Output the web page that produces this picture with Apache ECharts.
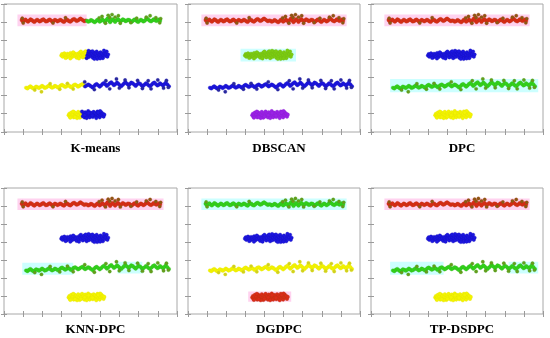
<!DOCTYPE html>
<html><head><meta charset="utf-8">
<script src="https://cdn.jsdelivr.net/npm/echarts@6/dist/echarts.min.js"></script>
<style>html,body{margin:0;padding:0;background:#fff}#c{width:550px;height:338px}</style>
</head><body><div id="c"></div>
<script>
// ---- data ----
const methods = ['K-means','DBSCAN','DPC','KNN-DPC','DGDPC','TP-DSDPC'];
const xTicks = [0,1,2,3,4,5,6,7,8,9];
const yTicks = [0,1,2,3,4,5,6,7];

const bandA = [[0.92,6.12],[0.98,6.05],[1.05,6.1],[1.12,6.15],[1.18,6.08],[1.25,6.03],[1.32,6.1],[1.38,6.16],[1.45,6.12],[1.52,6.05],[1.58,6.02],[1.65,6.08],[1.72,6.14],[1.78,6.1],[1.85,6.04],[1.92,6.07],[1.98,6.13],[2.05,6.16],[2.12,6.1],[2.18,6.04],[2.25,6.06],[2.32,6.12],[2.38,6.15],[2.45,6.09],[2.52,6.03],[2.58,6.07],[2.65,6.13],[2.72,6.1],[2.78,6.05],[2.85,6.08],[2.92,6.14],[2.98,6.11],[3.05,6.05],[3.12,6.02],[3.18,6.08],[3.25,6.14],[3.32,6.12],[3.38,6.06],[3.45,6.03],[3.52,6.09],[3.58,6.15],[3.65,6.18],[3.72,6.12],[3.78,6.07],[3.85,6.1],[3.92,6.16],[3.98,6.2],[4.05,6.15],[4.12,6.1],[4.18,6.06],[4.25,6.1],[4.32,6.08],[4.38,6.03],[4.45,6.06],[4.52,6.12],[4.58,6.1],[4.65,6.04],[4.72,6.0],[4.78,6.06],[4.85,6.13],[4.92,6.1],[4.98,6.03],[5.05,6.08],[5.12,6.15],[5.18,6.1],[5.25,6.02],[5.32,6.12],[5.38,6.2],[5.45,6.1],[5.52,6.0],[5.58,6.08],[5.65,6.16],[5.72,6.1],[5.78,6.02],[5.85,6.1],[5.92,6.18],[5.98,6.12],[6.05,6.05],[6.12,6.1],[6.18,6.16],[6.25,6.12],[6.32,6.06],[6.38,6.08],[6.45,6.14],[6.52,6.12],[6.58,6.06],[6.65,6.03],[6.72,6.09],[6.78,6.15],[6.85,6.12],[6.92,6.05],[6.98,6.02],[7.05,6.08],[7.12,6.14],[7.18,6.1],[7.25,6.04],[7.32,6.08],[7.38,6.15],[7.45,6.2],[7.52,6.14],[7.58,6.08],[7.65,6.05],[7.72,6.1],[7.78,6.16],[7.85,6.12],[7.92,6.07],[7.98,6.1],[8.05,6.15],[8.12,6.08]];
const bandAOut = [[0.95,6.22],[1.0,5.96],[2.55,5.96],[3.2,6.25],[4.95,6.24],[5.1,6.32],[5.28,5.95],[5.42,6.38],[5.5,6.26],[5.62,6.42],[5.78,6.28],[5.95,6.36],[6.05,5.95],[6.6,5.98],[6.9,6.22],[7.4,6.28],[7.6,6.36],[7.9,6.25],[8.1,5.97],[8.15,6.2]];

const bandB = [[2.98,4.18],[3.02,4.26],[3.05,4.12],[3.1,4.22],[3.14,4.3],[3.18,4.15],[3.22,4.22],[3.26,4.08],[3.3,4.28],[3.34,4.18],[3.38,4.24],[3.42,4.12],[3.46,4.32],[3.5,4.2],[3.54,4.1],[3.58,4.26],[3.62,4.18],[3.66,4.3],[3.7,4.14],[3.74,4.22],[3.78,4.06],[3.82,4.28],[3.86,4.2],[3.9,4.12],[3.94,4.34],[3.98,4.24],[4.02,4.16],[4.06,4.3],[4.1,4.08],[4.14,4.22],[4.18,4.36],[4.22,4.14],[4.26,4.26],[4.3,4.04],[4.34,4.2],[4.38,4.32],[4.42,4.1],[4.46,4.24],[4.5,4.38],[4.54,4.16],[4.58,4.28],[4.62,4.06],[4.66,4.2],[4.7,4.34],[4.74,4.12],[4.78,4.26],[4.82,4.4],[4.86,4.18],[4.9,4.3],[4.94,4.08],[4.98,4.22],[5.02,4.36],[5.06,4.14],[5.1,4.28],[5.14,4.04],[5.18,4.2],[5.22,4.34],[5.26,4.16],[5.3,4.26],[5.34,4.4],[5.38,4.12],[5.42,4.24],[3.2,4.05],[3.6,4.36],[4.0,4.4],[4.4,4.44],[4.6,4.42],[4.85,4.0],[5.0,4.02],[5.2,4.45],[3.9,4.02],[4.25,4.42],[3.45,4.02],[4.7,4.0]];

const bandC = [[1.15,2.42],[1.22,2.38],[1.3,2.45],[1.37,2.5],[1.44,2.44],[1.52,2.38],[1.6,2.42],[1.67,2.48],[1.75,2.45],[1.82,2.4],[1.9,2.46],[1.98,2.52],[2.05,2.47],[2.12,2.41],[2.2,2.44],[2.28,2.5],[2.35,2.54],[2.42,2.48],[2.5,2.42],[2.58,2.46],[2.65,2.52],[2.72,2.49],[2.8,2.43],[2.88,2.47],[2.95,2.54],[3.02,2.58],[3.1,2.52],[3.18,2.46],[3.25,2.5],[3.32,2.56],[3.4,2.52],[3.48,2.45],[3.55,2.49],[3.62,2.56],[3.7,2.6],[3.78,2.54],[3.85,2.48],[3.92,2.52],[4.0,2.58],[4.08,2.62],[4.15,2.55],[4.22,2.49],[4.3,2.54],[4.38,2.6],[4.45,2.56],[4.52,2.5],[4.6,2.44],[4.68,2.5],[4.75,2.58],[4.82,2.62],[4.9,2.55],[4.98,2.48],[5.05,2.54],[5.12,2.62],[5.2,2.68],[5.28,2.6],[5.35,2.52],[5.42,2.58],[5.5,2.66],[5.58,2.72],[5.65,2.64],[5.72,2.56],[5.8,2.62],[5.88,2.7],[5.95,2.64],[6.02,2.56],[6.1,2.5],[6.18,2.58],[6.25,2.66],[6.32,2.72],[6.4,2.64],[6.48,2.56],[6.55,2.62],[6.62,2.7],[6.7,2.66],[6.78,2.58],[6.85,2.52],[6.92,2.6],[7.0,2.68],[7.08,2.64],[7.15,2.56],[7.22,2.5],[7.3,2.58],[7.38,2.66],[7.45,2.62],[7.52,2.55],[7.6,2.5],[7.68,2.58],[7.75,2.66],[7.82,2.7],[7.9,2.62],[7.98,2.54],[8.05,2.58],[8.12,2.66],[8.2,2.6],[8.28,2.54],[8.35,2.62],[8.42,2.7],[8.5,2.6],[8.58,2.5]];
const bandCOut = [[1.95,2.2],[1.6,2.3],[2.4,2.64],[2.9,2.34],[3.3,2.66],[3.6,2.35],[4.2,2.74],[4.7,2.32],[5.3,2.8],[5.5,2.36],[5.85,2.9],[6.0,2.4],[6.3,2.84],[6.5,2.42],[6.95,2.82],[7.2,2.38],[7.5,2.8],[7.65,2.36],[8.0,2.84],[8.3,2.4],[8.45,2.82],[8.55,2.44]];

const bandD = [[3.36,0.92],[3.4,1.0],[3.42,0.84],[3.46,0.95],[3.5,1.06],[3.54,0.88],[3.58,0.98],[3.62,0.8],[3.66,1.08],[3.7,0.92],[3.74,1.02],[3.78,0.85],[3.82,0.96],[3.86,1.1],[3.9,0.9],[3.94,0.78],[3.98,1.04],[4.02,0.94],[4.06,1.12],[4.1,0.86],[4.14,1.0],[4.18,0.8],[4.22,1.08],[4.26,0.92],[4.3,1.02],[4.34,0.84],[4.38,1.14],[4.42,0.96],[4.46,0.8],[4.5,1.06],[4.54,0.9],[4.58,1.0],[4.62,0.82],[4.66,1.1],[4.7,0.94],[4.74,1.04],[4.78,0.86],[4.82,0.98],[4.86,1.12],[4.9,0.88],[4.94,1.02],[4.98,0.8],[5.02,0.94],[5.06,1.08],[5.1,0.9],[5.14,1.0],[5.18,0.84],[5.22,0.95],[3.45,0.78],[3.6,1.12],[3.8,0.76],[4.0,0.84],[4.2,0.92],[4.4,1.04],[4.6,0.9],[4.8,0.76],[5.0,1.14],[3.7,0.82],[4.3,0.76],[4.9,1.06]];

// cluster label (colour name) of each band, per method: [bandA, bandB, bandC, bandD]
const bandLabels = {
  'K-means':  [['red','green'],['yellow','blue'],['yellow','blue'],['yellow','blue']],
  'DBSCAN':   ['red','lime','blue','purple'],
  'DPC':      ['red','blue','green','yellow'],
  'KNN-DPC':  ['red','blue','green','yellow'],
  'DGDPC':    ['green','blue','yellow','red'],
  'TP-DSDPC': ['red','blue','green','yellow']
};
// K-means split position along x for each band
const kmeansSplit = [4.3, 4.3, 4.2, 4.06];

// ---- styles ----
const palette = {
  red:['#dc2a18','#8a5a14','#b23a12'], green:['#33d41c','#6a9a1c','#2cb018'], lime:['#7dcc12','#6a9a10','#70b810'],
  blue:['#1c16e0','#2a2a9a','#1812b8'], yellow:['#f4f400','#d0d020','#e0e000'], purple:['#9a22e6','#7a2ab0','#8a1ed0']
};
const hiPink = '#ffd2ef', hiCyan = '#ccffff';
const highlights = {
  'K-means':  [[0.7,5.78,4.3,6.42,hiPink]],
  'DBSCAN':   [[0.7,5.78,8.3,6.42,hiPink],[2.75,3.85,5.65,4.55,hiCyan]],
  'DPC':      [[0.7,5.78,8.3,6.42,hiPink],[1.0,2.18,8.75,2.9,hiCyan]],
  'KNN-DPC':  [[0.7,5.78,8.3,6.42,hiPink],[0.95,2.18,3.6,2.85,hiCyan],[5.9,2.25,7.2,2.9,hiCyan]],
  'DGDPC':    [[0.7,5.78,8.3,6.42,hiCyan],[3.15,0.68,5.4,1.25,hiPink]],
  'TP-DSDPC': [[0.7,5.78,8.3,6.42,hiPink],[1.0,2.18,3.8,2.9,hiCyan],[7.2,2.25,8.75,2.9,hiCyan]]
};

const gridPos = [
  {left:4,top:4,width:173,height:128},{left:188,top:4,width:172,height:128},{left:371,top:4,width:172,height:128},
  {left:4,top:188,width:173,height:126},{left:188,top:188,width:172,height:126},{left:371,top:188,width:172,height:126}
];
const titleY = [137,137,137,318,318,318];

const grids=[],xAxes=[],yAxes=[],series=[],titles=[];
const bands = [bandA,bandB,bandC,bandD];
const outs = [bandAOut,[],bandCOut,[]];
function axCommon(){return {interval:1,axisLine:{show:false},
  axisTick:{show:true,inside:true,length:3,lineStyle:{color:'#9a9a9a'}},axisLabel:{show:false},splitLine:{show:false}};}

methods.forEach((m,gi)=>{
  const g = gridPos[gi];
  grids.push(Object.assign({show:true,borderColor:'#a8a8a8',borderWidth:1,backgroundColor:'#fff'},g));
  const xi = xAxes.length, yi = yAxes.length;
  ['bottom','top'].forEach(p=>xAxes.push(Object.assign(axCommon(),{type:'value',gridIndex:gi,position:p,min:xTicks[0],max:xTicks[xTicks.length-1]})));
  ['left','right'].forEach(p=>yAxes.push(Object.assign(axCommon(),{type:'value',gridIndex:gi,position:p,min:yTicks[0],max:yTicks[yTicks.length-1]})));
  titles.push({text:m,left:g.left+g.width/2,top:titleY[gi],textAlign:'center',
    textStyle:{fontFamily:'Liberation Serif',fontWeight:'bold',fontSize:13,color:'#000'}});
  series.push({type:'scatter',xAxisIndex:xi,yAxisIndex:yi,data:[],silent:true,
    markArea:{silent:true,data:highlights[m].map(h=>[{xAxis:h[0],yAxis:h[1],itemStyle:{color:h[4],opacity:1}},{xAxis:h[2],yAxis:h[3]}])}});
  const labs = bandLabels[m];
  bands.forEach((b,bi)=>{
    const groups = {};
    const add=(pt,out)=>{
      let lab = labs[bi];
      if(Array.isArray(lab)) lab = pt[0] < kmeansSplit[bi] ? lab[0] : lab[1];
      const key = lab+(out?'o':'');
      (groups[key]=groups[key]||{lab,out,pts:[]}).pts.push(pt);
    };
    b.forEach(p=>add(p,false));
    outs[bi].forEach(p=>add(p,true));
    Object.values(groups).forEach(gr=>{
      const c = palette[gr.lab];
      series.push({type:'scatter',xAxisIndex:xi,yAxisIndex:yi,data:gr.pts,silent:true,
        symbolSize:gr.out?3.4:3.6,
        itemStyle:{color:gr.out?c[1]:c[0],borderColor:c[2],borderWidth:0.3,opacity:1}});
    });
  });
});

const chart = echarts.init(document.getElementById('c'),null,{renderer:'canvas'});
chart.setOption({animation:false,backgroundColor:'#fff',title:titles,grid:grids,xAxis:xAxes,yAxis:yAxes,series});
</script></body></html>
